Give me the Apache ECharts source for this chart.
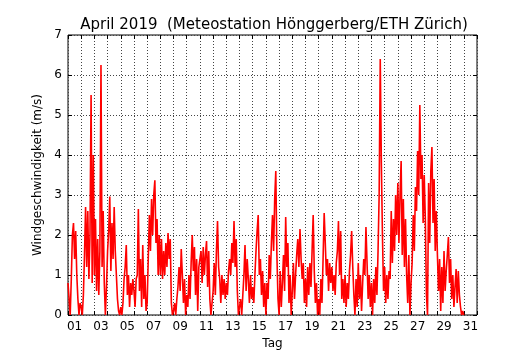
<!DOCTYPE html>
<html>
<head>
<meta charset="utf-8">
<script src="https://cdn.jsdelivr.net/npm/echarts@6.0.0/dist/echarts.min.js"></script>
<style>
    html, body { margin: 0; padding: 0; background: #fff; }
    #chart { width: 530px; height: 350px; }
</style>
</head>
<body>
<div id="chart"></div>
<script>
// day labels 01..31 (one category per day)
var dayLabels = ['01', '02', '03', '04', '05', '06', '07', '08', '09', '10',
    '11', '12', '13', '14', '15', '16', '17', '18', '19', '20',
    '21', '22', '23', '24', '25', '26', '27', '28', '29', '30', '31'];

// Windgeschwindigkeit (m/s), 12 readings per day (every 2 h)
var wind01to05 = [
    0.8, 0.4, 0.0, 0.9, 2.0, 2.3, 1.4, 2.1, 1.0, 0.4, 0.0, 0.3,
    0.2, 0.0, 0.5, 1.5, 2.7, 1.2, 2.6, 0.9, 2.0, 5.5, 0.8, 4.0,
    1.0, 2.4, 0.6, 1.9, 0.5, 1.6, 6.25, 1.2, 2.6, 0.8, 0.0, 0.7,
    1.6, 2.1, 2.96, 1.1, 2.3, 1.4, 2.7, 1.6, 1.0, 0.4, 0.1, 0.0,
    0.2, 0.0, 0.3, 0.9, 1.2, 1.75, 0.5, 1.0, 0.2, 0.8, 0.5, 0.9
];
var wind06to10 = [
    0.6, 0.2, 0.9, 1.0, 2.65, 0.6, 1.4, 0.2, 1.75, 0.4, 1.0, 0.1,
    0.3, 1.4, 2.5, 1.6, 2.9, 2.0, 3.0, 3.37, 1.8, 2.4, 1.0, 2.0,
    1.0, 1.9, 0.9, 1.6, 1.0, 1.8, 1.2, 2.05, 1.4, 1.9, 0.3, 0.0,
    0.1, 0.3, 0.0, 0.4, 0.7, 1.2, 0.6, 1.65, 1.0, 0.3, 0.9, 0.0,
    0.5, 0.2, 1.0, 0.4, 1.3, 2.0, 1.1, 1.7, 0.5, 1.4, 0.1, 1.2
];
var wind11to15 = [
    1.2, 1.6, 0.8, 1.7, 1.0, 1.5, 1.85, 0.7, 1.6, 0.4, 0.0, 0.3,
    0.6, 1.3, 0.5, 1.6, 2.35, 1.2, 0.9, 0.3, 1.0, 0.5, 0.9, 0.4,
    0.8, 0.5, 1.1, 1.4, 1.0, 1.8, 1.3, 2.35, 1.2, 1.9, 0.6, 0.0,
    0.2, 0.4, 0.0, 0.5, 1.0, 1.75, 0.6, 1.4, 0.9, 0.3, 1.0, 0.4,
    0.7, 0.3, 1.0, 1.6, 2.1, 2.5, 1.0, 1.4, 0.5, 1.1, 0.2, 0.8
];
var wind16to20 = [
    0.0, 0.8, 0.4, 1.5, 0.9, 1.8, 2.5, 1.6, 2.9, 3.6, 1.5, 0.4,
    0.0, 1.1, 0.2, 0.8, 1.5, 0.6, 2.45, 1.2, 1.8, 0.3, 1.0, 0.0,
    0.6, 1.3, 0.4, 1.0, 1.5, 1.9, 1.2, 2.15, 1.4, 0.9, 1.3, 0.3,
    0.9, 0.2, 1.2, 0.5, 1.3, 0.7, 1.6, 2.5, 1.1, 0.3, 0.8, 0.0,
    0.4, 0.0, 0.9, 0.3, 1.4, 2.55, 1.8, 1.0, 1.4, 0.6, 1.3, 0.8
];
var wind21to25 = [
    1.2, 0.6, 1.0, 0.5, 1.3, 1.6, 2.35, 1.0, 2.1, 0.4, 0.9, 0.3,
    1.0, 0.2, 0.8, 0.4, 1.1, 1.5, 2.1, 1.2, 0.5, 0.0, 0.9, 0.2,
    1.3, 0.4, 1.0, 0.1, 0.8, 1.4, 1.0, 2.2, 1.3, 0.4, 1.0, 0.2,
    0.8, 0.0, 0.9, 0.3, 1.2, 0.5, 1.6, 3.0, 6.4, 3.8, 2.0, 0.6,
    1.2, 0.3, 1.0, 0.4, 1.1, 0.9, 2.6, 1.3, 2.4, 1.6, 3.0, 2.0
];
var wind26to30 = [
    3.3, 1.8, 3.0, 3.85, 1.5, 2.9, 1.2, 2.4, 1.0, 0.3, 1.5, 0.0,
    0.8, 1.3, 2.5, 1.6, 3.2, 2.6, 4.1, 3.0, 5.25, 3.4, 4.0, 2.3,
    3.5, 2.4, 0.5, 0.0, 3.3, 1.8, 3.6, 4.2, 2.3, 3.4, 1.6, 2.6,
    1.5, 0.6, 1.4, 0.1, 1.2, 0.3, 1.6, 0.6, 1.1, 1.5, 1.95, 0.8,
    1.4, 0.4, 1.0, 0.2, 0.7, 1.15, 0.3, 1.1, 0.5, 0.2, 0.0, 0.1,
    0.0
];

var readingsPerDay = 12;
var wind = [].concat(wind01to05, wind06to10, wind11to15, wind16to20, wind21to25, wind26to30);
var windData = wind.map(function (v, i) {
    return [i / readingsPerDay, v];
});

var font = 'DejaVu Sans';
var dotted = {show: true, lineStyle: {color: '#444', width: 1, type: [1, 2]}};

var myChart = echarts.init(document.getElementById('chart'));
myChart.setOption({
    animation: false,
    backgroundColor: '#fff',
    title: {
        text: 'April 2019  (Meteostation Hönggerberg/ETH Zürich)',
        left: 269,
        top: 13,
        textAlign: 'center',
        textStyle: {fontFamily: font, fontSize: 15, fontWeight: 'normal', color: '#000'}
    },
    grid: {
        left: 68, right: 53, top: 35, bottom: 35,
        outerBoundsMode: 'none',
        containLabel: false,
        show: true, borderColor: '#000', borderWidth: 1
    },
    xAxis: [
        {
            // labels, ticks and grid lines per day
            type: 'category',
            data: dayLabels,
            boundaryGap: true,
            position: 'bottom',
            name: 'Tag',
            nameLocation: 'middle',
            nameGap: 22,
            nameTextStyle: {fontFamily: font, fontSize: 12, color: '#000'},
            axisLine: {show: false},
            axisTick: {show: true, inside: true, length: 4, interval: 0, lineStyle: {color: '#000'}},
            axisLabel: {interval: 1, margin: 6, fontFamily: font, fontSize: 12, color: '#000'},
            splitLine: {show: true, interval: 0, lineStyle: dotted.lineStyle}
        },
        {
            // value axis for the readings (days since 1 April 00:00)
            type: 'value',
            min: 0,
            max: dayLabels.length,
            position: 'bottom',
            show: false
        },
        {
            type: 'category',
            data: dayLabels,
            boundaryGap: true,
            position: 'top',
            axisLine: {show: false},
            axisTick: {show: true, inside: true, length: 4, interval: 0, lineStyle: {color: '#000'}},
            axisLabel: {show: false},
            splitLine: {show: false}
        }
    ],
    yAxis: [
        {
            type: 'value',
            min: 0,
            max: 7,
            interval: 1,
            name: 'Windgeschwindigkeit (m/s)',
            nameLocation: 'middle',
            nameGap: 20,
            nameTextStyle: {fontFamily: font, fontSize: 12, color: '#000'},
            axisLine: {show: false},
            axisTick: {show: true, inside: true, length: 4, lineStyle: {color: '#000'}},
            axisLabel: {margin: 6, fontFamily: font, fontSize: 12, color: '#000'},
            splitLine: dotted
        },
        {
            type: 'value',
            min: 0,
            max: 7,
            interval: 1,
            position: 'right',
            axisLine: {show: false},
            axisTick: {show: true, inside: true, length: 4, lineStyle: {color: '#000'}},
            axisLabel: {show: false},
            splitLine: {show: false}
        }
    ],
    series: [
        {
            type: 'line',
            xAxisIndex: 1,
            yAxisIndex: 0,
            data: windData,
            showSymbol: false,
            symbol: 'none',
            sampling: null,
            lineStyle: {color: '#ff0000', width: 1.6},
            z: 5
        }
    ]
});
</script>
</body>
</html>
